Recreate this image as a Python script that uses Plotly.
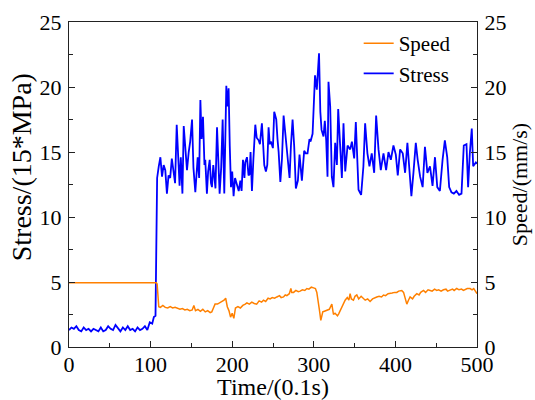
import plotly.graph_objects as go

# ---- data ----
stress_t = [0, 3, 6, 9, 12, 15, 18, 21, 24, 27, 30, 33, 36, 39, 42, 45, 48, 51, 54, 57,
            60, 63, 66, 69, 72, 75, 78, 81, 84, 87, 90, 93, 96, 99, 102, 104, 106, 108,
            110, 112, 114, 116, 118, 120, 122, 124, 126, 128, 130, 132, 134, 135.5, 137, 139,
            140.6, 142, 144.6, 146.7, 148.5, 150.8, 152.5, 154.8, 156, 157.7, 159.5, 161, 162.5,
            164.2, 166, 167, 169, 170.5, 172.4, 174, 175.2, 176.8, 178, 179.5, 181.4, 183, 184.6,
            186.5, 188.3, 190.3, 192, 192.8, 194, 195.6, 197, 198.5, 200, 201.7, 203.5, 205.8,
            208, 210, 211.5, 213.2, 215, 216, 218.1, 220, 221.3, 222.5, 224.2, 226, 228.3, 230,
            232.4, 234, 236.4, 238, 239.3, 241.3, 243, 244.6, 246, 247.4, 249.9, 251.5, 254,
            255.5, 256.9, 259, 261, 263, 265.8, 267.9, 270.3, 272, 274, 276, 278, 280.5, 282.5,
            285.4, 288.2, 290, 292.3, 294.7, 296, 298.5, 301.5, 303.7, 306.4, 308, 309.5, 311.9,
            313.5, 315.2, 316.8, 318, 320.1, 322.1, 324.1, 326.2, 328.3, 329.9, 332.4, 334.4,
            336.4, 338.5, 341.4, 344.6, 346.7, 349.5, 351.5, 354.8, 358, 360.8, 362.9, 365.7,
            368.2, 371, 374, 376.4, 379.3, 382.1, 385.4, 388.6, 391.5, 394.4, 397.6, 400.5,
            402.9, 405.8, 409, 411.9, 414.7, 417.2, 419.6, 422.1, 425, 427.3, 430.3, 433.4,
            436.2, 439.2, 442.4, 445.5, 448.5, 451.3, 454.5, 457.8, 460.6, 463.5, 465.9, 468.7,
            471.6, 474.8, 478.1, 481, 483.8, 487.1, 489.1, 491.2, 493.6, 495.3, 498.6, 500]
stress_v = [1.3, 1.5, 1.4, 1.6, 1.3, 1.2, 1.5, 1.3, 1.4, 1.2, 1.4, 1.3, 1.2, 1.5, 1.2, 1.3, 1.6, 1.4, 1.3, 1.7,
            1.4, 1.2, 1.5, 1.3, 1.6, 1.3, 1.4, 1.2, 1.5, 1.3, 1.4, 1.6, 1.3, 1.9, 1.8, 2.3, 2.4, 13.0,
            13.9, 14.6, 13.1, 14.0, 13.6, 11.8, 13.2, 13.0, 14.5, 13.6, 12.6, 17.1, 13.5, 12.4, 14.6, 11.8,
            17.0, 15.5, 13.6, 15.0, 15.8, 17.5, 13.8, 11.9, 13.5, 14.6, 13.0, 19.0, 16.0,
            17.7, 14.0, 14.4, 11.8, 13.5, 14.4, 12.6, 12.3, 14.0, 13.2, 12.2, 16.9, 13.5, 11.8,
            13.8, 17.5, 11.8, 16.0, 20.1, 18.5, 19.9, 15.5, 12.3, 13.5, 11.6, 13.0, 12.4,
            12.0, 12.8, 12.0, 14.4, 13.0, 14.2, 14.6, 13.2, 13.3, 15.0, 12.0, 14.5, 17.1, 16.1,
            15.9, 15.6, 17.2, 15.5, 14.0, 13.5, 14.0, 16.9, 15.6, 15.8, 15.3, 18.1, 17.5,
            16.0, 15.0, 12.7, 14.5, 17.8, 15.8, 14.9, 13.0, 15.5, 17.5, 15.4, 12.2, 12.8, 14.8,
            12.8, 15.1, 14.9, 14.9, 16.0, 15.8, 16.4, 20.9, 19.8, 22.6, 18.1, 16.7, 16.2,
            17.4, 15.9, 13.1, 20.4, 18.5, 13.1, 12.3, 15.7, 14.0, 18.3, 14.6, 13.0,
            17.2, 13.5, 15.5, 15.2, 15.8, 14.5, 17.3, 12.1, 11.7, 13.9, 17.2, 14.9,
            13.9, 14.9, 13.4, 17.8, 15.2, 13.6, 14.9, 13.6, 15.0, 14.4, 15.5, 14.8,
            13.2, 15.2, 14.9, 13.4, 15.7, 13.9, 11.6, 13.4, 15.7, 14.4, 13.1, 12.3,
            15.4, 13.4, 13.9, 12.4, 14.6, 12.3, 12.0, 14.4, 15.9, 14.6, 12.3, 11.9,
            11.8, 12.0, 11.7, 11.8, 15.5, 15.6, 12.3, 14.9, 16.8, 13.9, 14.2, 14.1]

speed_t = [0, 20, 40, 60, 80, 100, 107, 108, 109.5, 110, 112, 115, 118, 121, 124, 127, 130, 133,
           136, 139, 142, 145, 148, 151, 153, 155, 158, 161, 164, 167, 170, 173, 175, 177, 179,
           182, 185, 188, 190, 192, 194, 196, 198, 200, 202, 204, 207, 210, 213, 216, 218, 221,
           224, 227, 230, 233, 236, 238.3, 241, 244, 246.5, 249, 252, 254.7, 258, 260, 262.9,
           265, 267, 270, 271.9, 273, 275.2, 278, 281, 283.3, 286, 289, 291.5, 294, 297, 299.7,
           302, 303.7, 305.8, 307, 308.6, 310, 311, 313, 316, 319, 322.1, 323, 324.1, 326, 329,
           330.5, 332.3, 335, 338.4, 341, 343, 344.5, 346, 348.6, 350.5, 352.7, 355, 358, 360.8,
           363, 366, 369, 372, 375, 377.2, 380, 383, 385.4, 388, 391, 393.5, 396, 399, 401.7,
           404, 407.8, 410, 411.9, 413, 414, 416, 418, 421, 423, 426.2, 429, 431, 434.4, 437,
           440, 442.6, 445, 448, 450.7, 453, 456, 458.9, 462, 464, 467.1, 470, 472, 475.2, 478,
           481, 483.4, 486, 488, 491.5, 494, 496, 498, 500]
speed_v = [4.95, 4.95, 4.93, 4.95, 4.95, 4.95, 4.95, 4.85, 3.4, 3.1, 3.05, 3.2, 3.05, 3.0, 3.1, 3.0, 3.05, 2.95,
           2.9, 2.95, 2.85, 2.9, 2.8, 2.85, 3.2, 2.8, 2.9, 2.75, 2.9, 2.7, 2.8, 2.65, 2.7, 3.0, 3.3,
           3.3, 3.4, 3.5, 3.6, 3.75, 3.1, 2.8, 2.3, 2.6, 2.2, 3.0, 3.1, 3.0, 3.2, 3.3, 3.4, 3.3,
           3.45, 3.35, 3.3, 3.55, 3.45, 3.6, 3.5, 3.75, 3.7, 3.8, 3.75, 3.85, 3.95, 3.8, 3.85,
           4.0, 3.95, 4.1, 4.5, 4.2, 4.2, 4.35, 4.25, 4.3, 4.4, 4.35, 4.5, 4.45, 4.6, 4.55,
           4.5, 4.2, 3.45, 2.8, 2.05, 2.4, 2.7, 2.75, 2.8, 2.9, 3.3, 2.9, 2.5, 2.6, 2.4,
           2.55, 2.8, 3.2, 3.6, 3.8, 3.6, 4.1, 3.7, 3.6, 3.9, 4.0, 3.7, 3.9, 3.75,
           3.6, 3.7, 3.5, 3.7, 3.8, 3.85, 3.9, 3.85, 4.0, 3.95, 4.1, 4.1, 4.15, 4.2, 4.2,
           4.3, 4.35, 4.2, 3.85, 3.5, 3.3, 3.6, 3.85, 3.7, 3.9, 4.1, 4.0, 4.2, 4.35, 4.2,
           4.4, 4.35, 4.3, 4.45, 4.35, 4.4, 4.3, 4.4, 4.45, 4.3, 4.4, 4.45, 4.35, 4.5, 4.4,
           4.45, 4.35, 4.45, 4.5, 4.5, 4.4, 4.5, 4.3, 4.1]

x_title = "Time/(0.1s)"
y_title = "Stress/(15*MPa)"
y2_title = "Speed/(mm/s)"

FONT = "Liberation Serif"

fig = go.Figure()
fig.add_trace(go.Scatter(x=speed_t, y=speed_v, name="Speed", mode="lines", yaxis="y2",
                         line=dict(color="#FF8000", width=1.5)))
fig.add_trace(go.Scatter(x=stress_t, y=stress_v, name="Stress", mode="lines",
                         line=dict(color="#0000FF", width=1.8)))

axis_common = dict(showgrid=False, zeroline=False, showline=True, linecolor="#222222", linewidth=1.3,
                   ticks="inside", ticklen=6, tickwidth=1.2, tickcolor="#222222", automargin=False,
                   tickfont=dict(family=FONT, size=22, color="black"))

fig.update_layout(
    width=535, height=400,
    margin=dict(l=69, r=58, t=22, b=53),
    paper_bgcolor="white", plot_bgcolor="white",
    font=dict(family=FONT, size=22, color="black"),
    xaxis=dict(range=[0, 500], dtick=100, mirror=True, ticklabelstandoff=-3,
               minor=dict(dtick=50, ticks="inside", ticklen=3.5, tickcolor="#222222"),
               title=dict(text=x_title, font=dict(family=FONT, size=24), standoff=8),
               **axis_common),
    yaxis=dict(range=[0, 25], dtick=5, ticklabelstandoff=2,
               minor=dict(dtick=2.5, ticks="inside", ticklen=3.5, tickcolor="#222222"),
               **axis_common),
    yaxis2=dict(range=[0, 25], dtick=5, overlaying="y", side="right", ticklabelstandoff=2,
                minor=dict(dtick=2.5, ticks="inside", ticklen=3.5, tickcolor="#222222"),
                title=dict(text=y2_title, font=dict(family=FONT, size=22), standoff=4),
                **axis_common),
    legend=dict(x=0.71, y=0.997, xanchor="left", yanchor="top", bgcolor="rgba(0,0,0,0)",
                font=dict(family=FONT, size=21), tracegroupgap=0),
    showlegend=True,
    annotations=[dict(text=y_title, xref="paper", yref="paper", x=-0.1176, y=0.553,
                      xanchor="center", yanchor="middle", textangle=-90, showarrow=False,
                      font=dict(family=FONT, size=28, color="black"))],
)

fig.write_html("out.html")
